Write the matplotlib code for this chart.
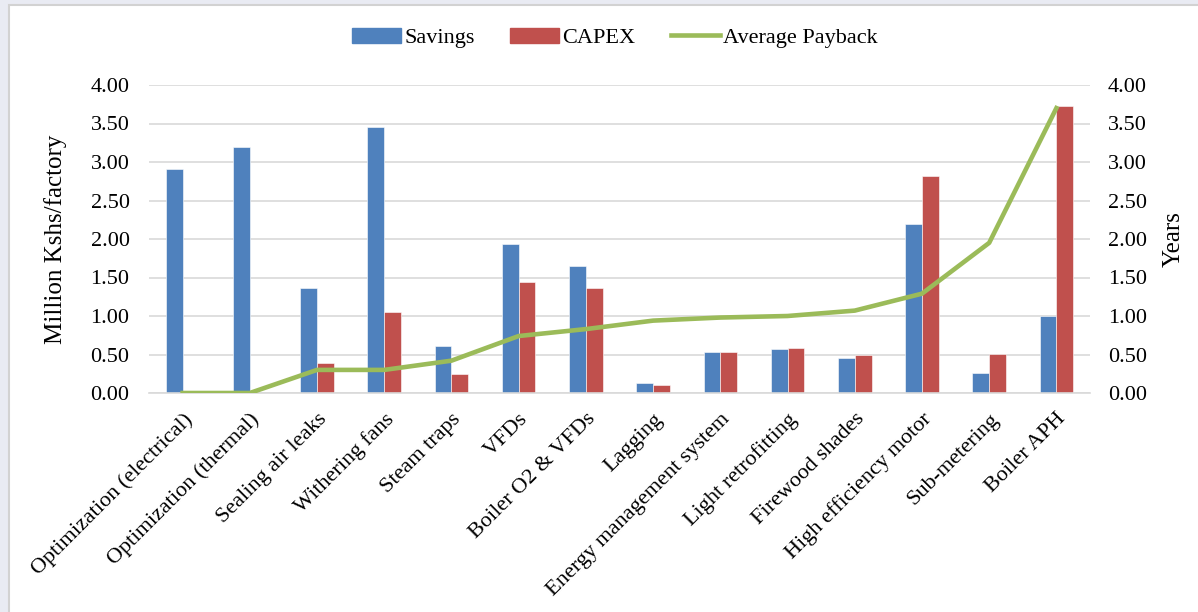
import matplotlib
matplotlib.use("Agg")
import matplotlib.pyplot as plt
from matplotlib.patches import Rectangle
from matplotlib.lines import Line2D
import numpy as np

categories = ["Optimization (electrical)", "Optimization (thermal)", "Sealing air leaks",
              "Withering fans", "Steam traps", "VFDs", "Boiler O2 & VFDs", "Lagging",
              "Energy management system", "Light retrofitting", "Firewood shades",
              "High efficiency motor", "Sub-metering", "Boiler APH"]
savings = [2.91, 3.20, 1.36, 3.46, 0.61, 1.94, 1.65, 0.13, 0.53, 0.57, 0.46, 2.20, 0.26, 1.00]
capex = [0.0, 0.0, 0.39, 1.05, 0.25, 1.44, 1.37, 0.11, 0.53, 0.59, 0.49, 2.82, 0.51, 3.73]
payback = [0.0, 0.0, 0.30, 0.30, 0.42, 0.74, 0.83, 0.94, 0.98, 1.00, 1.07, 1.29, 1.95, 3.70]
yticks = [0.0, 0.5, 1.0, 1.5, 2.0, 2.5, 3.0, 3.5, 4.0]

W, H = 1198, 612
fig = plt.figure(figsize=(W / 100, H / 100), dpi=100, facecolor="#e9ebf3")
fig.patches.append(Rectangle((9 / W, -0.01), 1.02 - 9 / W, 1 - 5 / H + 0.01,
                             transform=fig.transFigure, facecolor="white",
                             edgecolor="#d2d2d2", linewidth=1.5, zorder=-10))

serif = ["Liberation Serif", "DejaVu Serif"]
plt.rcParams["font.family"] = serif

ax = fig.add_axes([149 / W, 1 - 393 / H, (1090 - 149) / W, (393 - 85) / H])
ax.set_facecolor("none")
x = np.arange(len(categories))
bw = 0.25
ax.bar(x - bw / 2, savings, bw, color="#4F81BD", edgecolor="white", linewidth=0.4, zorder=2)
ax.bar(x + bw / 2, capex, bw, color="#C0504D", edgecolor="white", linewidth=0.4, zorder=2)
ax.set_xlim(-0.5, len(categories) - 0.5)
ax.set_ylim(0, 4)
ax.set_yticks(yticks)
ax.set_yticklabels([f"{v:.2f}" for v in yticks], fontsize=16)
ax.yaxis.grid(True, color="#d9d9d9", linewidth=1.2, zorder=0)
ax.set_axisbelow(True)
for s in ["top", "right", "left"]:
    ax.spines[s].set_visible(False)
ax.spines["bottom"].set_color("#d9d9d9")
ax.spines["bottom"].set_linewidth(1.2)
ax.tick_params(axis="both", length=0)
ax.tick_params(axis="y", pad=14)
ax.set_xticks(x)
ax.set_xticklabels(categories, rotation=45, ha="right", rotation_mode="anchor", fontsize=16)
ax.tick_params(axis="x", pad=12)
ax.set_ylabel("Million Kshs/factory", fontsize=18, labelpad=17)

ax2 = ax.twinx()
ax2.plot(x, payback, color="#9BBB59", linewidth=3.3, zorder=3, solid_joinstyle="round")
ax2.set_ylim(0, 4)
ax2.set_yticks(yticks)
ax2.set_yticklabels([f"{v:.2f}" for v in yticks], fontsize=16)
for s in ["top", "right", "left", "bottom"]:
    ax2.spines[s].set_visible(False)
ax2.tick_params(axis="y", length=0, pad=13)
ax2.set_ylabel("Years", fontsize=18, labelpad=11)

handles = [Rectangle((0, 0), 1, 1, color="#4F81BD"),
           Rectangle((0, 0), 1, 1, color="#C0504D"),
           Line2D([0], [0], color="#9BBB59", linewidth=3.3)]
fig.legend(handles, ["Savings", "CAPEX", "Average Payback"], loc="center",
           bbox_to_anchor=(615 / W, 1 - 38 / H), ncol=3, frameon=False,
           fontsize=16, handlelength=2.2, handleheight=0.7, handletextpad=0.15,
           columnspacing=1.6)

fig.savefig("out.png", dpi=100, facecolor=fig.get_facecolor())
